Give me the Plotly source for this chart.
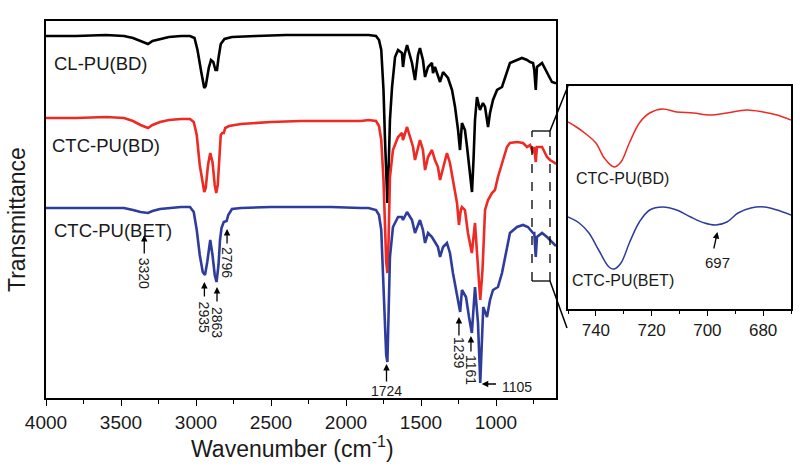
import plotly.graph_objects as go

# ---------------- data (transmittance in arbitrary offset units) -------------
cl_wn = [4000, 3800, 3600, 3480, 3420, 3370, 3320, 3290, 3240, 3180, 3100, 3040, 3010, 2990, 2965, 2945,
         2935, 2915, 2900, 2885, 2870, 2860, 2850, 2835, 2810, 2760, 2600, 2400, 2200, 2000, 1850, 1800,
         1780, 1765, 1750, 1740, 1732, 1724, 1716, 1707, 1693, 1673, 1653, 1627, 1620, 1610, 1593, 1573,
         1560, 1540, 1520, 1507, 1487, 1473, 1453, 1427, 1420, 1407, 1387, 1373, 1353, 1320, 1293, 1273,
         1253, 1240, 1227, 1207, 1193, 1173, 1160, 1150, 1140, 1127, 1107, 1087, 1073, 1053, 1040, 1020,
         993, 960, 927, 907, 860, 827, 793, 773, 753, 745, 735, 727, 693, 660, 627, 607, 600]
cl_t = [362, 362, 363, 362, 360, 357, 354, 357, 359, 361, 362, 362, 360, 348, 326, 310,
        312, 330, 338, 336, 328, 328, 340, 354, 359, 361, 362, 363, 363, 363, 363, 362,
        358, 348, 308, 258, 213, 195, 228, 278, 311, 341, 348, 345, 331, 343, 353, 341,
        335, 318, 343, 350, 338, 321, 331, 335, 325, 331, 323, 316, 326, 320, 308, 291,
        268, 248, 275, 268, 251, 221, 206, 238, 278, 301, 288, 295, 291, 271, 285, 298,
        308, 311, 326, 335, 338, 340, 338, 336, 335, 328, 308, 331, 335, 326, 316, 315, 315]

bd_wn = [4000, 3800, 3600, 3480, 3420, 3370, 3320, 3290, 3240, 3180, 3100, 3040, 3015, 2995, 2975, 2955,
         2945, 2935, 2920, 2905, 2890, 2875, 2865, 2855, 2845, 2835, 2825, 2815, 2805, 2780, 2700, 2500,
         2300, 2100, 1900, 1850, 1800, 1780, 1765, 1750, 1740, 1732, 1724, 1716, 1707, 1687, 1653, 1627,
         1620, 1593, 1573, 1553, 1540, 1507, 1487, 1473, 1453, 1427, 1407, 1387, 1373, 1353, 1327, 1307,
         1287, 1260, 1247, 1235, 1227, 1207, 1187, 1161, 1140, 1120, 1105, 1090, 1073, 1053, 1027, 1007,
         987, 953, 927, 907, 860, 820, 793, 773, 753, 745, 735, 727, 693, 660, 640, 607, 600]
bd_t = [280, 280, 281, 280, 277, 273, 270, 273, 276, 278, 279, 279, 276, 263, 233, 213,
        206, 210, 233, 245, 236, 213, 205, 213, 243, 263, 265, 265, 270, 272, 274, 276,
        277, 277, 277, 278, 277, 272, 258, 218, 168, 136, 125, 158, 221, 248, 261, 265,
        258, 271, 261, 251, 238, 258, 248, 228, 241, 248, 238, 231, 218, 231, 245, 235,
        218, 195, 173, 188, 191, 188, 165, 145, 175, 128, 98, 128, 188, 198, 205, 208,
        221, 238, 251, 255, 256, 255, 251, 253, 245, 251, 236, 251, 251, 241, 238, 235, 234]

bet_wn = [4000, 3800, 3600, 3480, 3420, 3370, 3320, 3290, 3240, 3180, 3100, 3040, 3015, 2995, 2975, 2955,
          2940, 2925, 2905, 2890, 2875, 2863, 2850, 2840, 2830, 2815, 2796, 2785, 2760, 2700, 2500, 2300,
          2100, 1900, 1850, 1800, 1780, 1765, 1750, 1740, 1732, 1724, 1716, 1707, 1687, 1653, 1627, 1620,
          1593, 1560, 1540, 1507, 1487, 1473, 1453, 1427, 1407, 1387, 1373, 1353, 1327, 1307, 1287, 1260,
          1239, 1227, 1200, 1180, 1161, 1140, 1120, 1105, 1085, 1060, 1040, 1020, 987, 960, 927, 907,
          860, 820, 787, 753, 745, 735, 727, 693, 660, 627, 607, 600]
bet_t = [190, 190, 190, 190, 188, 186, 185, 187, 189, 190, 191, 191, 186, 168, 143, 126,
         123, 136, 158, 143, 123, 116, 133, 158, 170, 176, 177, 183, 189, 190, 191, 191,
         191, 190, 190, 188, 183, 168, 118, 68, 43, 36, 78, 141, 171, 181, 181, 178,
         186, 178, 165, 178, 168, 155, 165, 161, 156, 151, 141, 151, 155, 145, 125, 105,
         86, 108, 101, 81, 65, 111, 75, 15, 91, 81, 98, 108, 111, 125, 151, 165,
         171, 173, 171, 165, 165, 141, 161, 165, 161, 156, 153, 152]

# inset (zoom of 750-670 cm-1)
ins_bd_wn = [750, 747, 744, 740, 737, 733.5, 731, 728, 724.4, 720.7, 716, 711, 705, 699, 693, 686, 680, 675, 670]
ins_bd_t = [276, 271, 265, 255, 240, 231, 236, 255, 275, 285, 289, 286, 285, 283, 285, 288, 286, 283, 278]
ins_bet_wn = [750, 746, 742.5, 739, 735.3, 733.5, 731, 728, 724.4, 720.7, 716, 711, 706, 701, 697, 693, 689,
              684.4, 679.5, 675, 670]
ins_bet_t = [181, 175, 165, 148, 131, 129, 135, 155, 176, 188, 191, 188, 181, 175, 173, 176, 185,
             190, 191, 188, 183]

tick_vals = [4000, 3500, 3000, 2500, 2000, 1500, 1000]
inset_ticks = [740, 720, 700, 680]

peak_labels = ["3320", "2935", "2863", "2796", "1724", "1239", "1161"]

# ---------------- figure -------------
BLACK = "#000000"
RED = "#ee2a24"
BLUE = "#2e3c9c"
TXT = "#1a1a1a"
FONT = "Arial, Liberation Sans, sans-serif"

MAIN_X = [4000, 600]
MAIN_Y = [0, 377]
INS_X = [750, 670]
INS_Y = [89, 312]
D_MAIN = 510 / 745
D_INS0 = 522 / 745

fig = go.Figure()
fig.add_trace(go.Scatter(x=cl_wn, y=cl_t, mode="lines", line=dict(color=BLACK, width=2.6), showlegend=False))
fig.add_trace(go.Scatter(x=bd_wn, y=bd_t, mode="lines", line=dict(color=RED, width=2.6), showlegend=False))
fig.add_trace(go.Scatter(x=bet_wn, y=bet_t, mode="lines", line=dict(color=BLUE, width=2.6), showlegend=False))
fig.add_trace(go.Scatter(x=ins_bd_wn, y=ins_bd_t, mode="lines", line=dict(color=RED, width=1.5, shape="spline"),
                         xaxis="x2", yaxis="y2", showlegend=False))
fig.add_trace(go.Scatter(x=ins_bet_wn, y=ins_bet_t, mode="lines", line=dict(color=BLUE, width=1.5, shape="spline"),
                         xaxis="x2", yaxis="y2", showlegend=False))

axis_common = dict(showline=True, linecolor="black", linewidth=1.5, mirror=True, showgrid=False, zeroline=False,
                   automargin=False)
fig.update_layout(
    width=800, height=469,
    margin=dict(l=46, r=9, t=21, b=71, autoexpand=False),
    paper_bgcolor="white", plot_bgcolor="white",
    font=dict(family=FONT, color=TXT),
    xaxis=dict(domain=[0, D_MAIN], range=MAIN_X, tickvals=tick_vals, ticks="outside", ticklen=6, tickwidth=1.3,
               tickcolor="black", tickfont=dict(size=19, color=TXT),
               minor=dict(dtick=250, tick0=0, ticks="outside", ticklen=4, tickwidth=1.2, tickcolor="black"),
               **axis_common),
    yaxis=dict(domain=[0, 1], range=MAIN_Y, showticklabels=False, ticks="", **axis_common),
    xaxis2=dict(domain=[D_INS0, 1], range=INS_X, anchor="y2", tickvals=inset_ticks, ticks="outside", ticklen=5,
                tickwidth=1.2, tickcolor="black", tickfont=dict(size=17, color=TXT),
                minor=dict(dtick=10, tick0=0, ticks="outside", ticklen=3, tickwidth=1, tickcolor="black"),
                **axis_common),
    yaxis2=dict(domain=[89 / 377, 312 / 377], range=INS_Y, anchor="x2", showticklabels=False, ticks="",
                **axis_common),
)


def px_x(wn):
    return D_MAIN * (MAIN_X[0] - wn) / (MAIN_X[0] - MAIN_X[1])


def px_y(t):
    return t / MAIN_Y[1]


# dashed zoom box on the main plot (760-640 cm-1)
bx0, bx1, by0, by1 = 760, 640, 117, 267
fig.add_shape(type="line", x0=bx0, x1=bx0, y0=by0, y1=by1, xref="x", yref="y",
              line=dict(color="black", width=1.3, dash="dash"))
fig.add_shape(type="line", x0=bx1, x1=bx1, y0=by0, y1=by1, xref="x", yref="y",
              line=dict(color="black", width=1.3, dash="dash"))
fig.add_shape(type="line", x0=bx0, x1=bx1, y0=by0, y1=by0, xref="x", yref="y",
              line=dict(color="black", width=1.3))
fig.add_shape(type="line", x0=bx0, x1=bx1, y0=by1, y1=by1, xref="x", yref="y",
              line=dict(color="black", width=1.3))
# connector lines to the inset
fig.add_shape(type="line", xref="paper", yref="paper", x0=px_x(bx1), y0=px_y(by1), x1=D_INS0, y1=312 / 377,
              line=dict(color="black", width=1.5))
fig.add_shape(type="line", xref="paper", yref="paper", x0=px_x(bx1), y0=px_y(by0), x1=521 / 745, y1=70 / 377,
              line=dict(color="black", width=1.5))

# series labels
for txt, xx, yy in [("CL-PU(BD)", 3960, 335), ("CTC-PU(BD)", 3973, 253), ("CTC-PU(BET)", 3960, 168)]:
    fig.add_annotation(x=xx, y=yy, xref="x", yref="y", text=txt, showarrow=False, xanchor="left",
                       yanchor="middle", font=dict(size=18.5, color=TXT))
for txt, xx, yy in [("CTC-PU(BD)", 730.5, 220), ("CTC-PU(BET)", 730.2, 118)]:
    fig.add_annotation(x=xx, y=yy, xref="x2", yref="y2", text=txt, showarrow=False, xanchor="center",
                       yanchor="middle", font=dict(size=16, color=TXT))

# peak arrows (x, tip, tail) and rotated labels
arrows = [(3345, 163, 143), (2944, 116, 100), (2860, 111, 95), (2793, 169, 153),
          (1730, 34, 15), (1247, 81, 61), (1167, 62, 45)]
label_pos = [(3345, 125, 90), (2944, 81, 90), (2860, 76, 90), (2793, 136, 90),
             (1730, 7, 0), (1247, 45, 90), (1167, 28, 90)]
for lab, (xa, tip, tail), (lx, ly, ang) in zip(peak_labels, arrows, label_pos):
    fig.add_annotation(x=xa, y=tip, ax=xa, ay=tail, xref="x", yref="y", axref="x", ayref="y", text="",
                       showarrow=True, arrowhead=2, arrowsize=1, arrowwidth=1.3, arrowcolor="black", standoff=0)
    fig.add_annotation(x=lx, y=ly, xref="x", yref="y", text=lab, showarrow=False, textangle=ang,
                       xanchor="center", yanchor="middle", font=dict(size=14, color=TXT))
# 1105: horizontal arrow
fig.add_annotation(x=1095, y=14, ax=990, ay=14, xref="x", yref="y", axref="x", ayref="y", text="",
                   showarrow=True, arrowhead=2, arrowsize=1, arrowwidth=1.3, arrowcolor="black", standoff=0)
fig.add_annotation(x=975, y=11, xref="x", yref="y", text="1105", showarrow=False, xanchor="left",
                   yanchor="middle", font=dict(size=14, color=TXT))
# 697 in inset
fig.add_annotation(x=696.4, y=166, ax=697.8, ay=148, xref="x2", yref="y2", axref="x2", ayref="y2", text="",
                   showarrow=True, arrowhead=2, arrowsize=1, arrowwidth=1.3, arrowcolor="black", standoff=0)
fig.add_annotation(x=696.4, y=136, xref="x2", yref="y2", text="697", showarrow=False, xanchor="center",
                   yanchor="middle", font=dict(size=15, color=TXT))

# axis titles
fig.add_annotation(x=(292 - 46) / 745, y=(398 - 447) / 377, xref="paper", yref="paper",
                   text="Wavenumber (cm<sup>-1</sup>)", showarrow=False, xanchor="center", yanchor="middle",
                   font=dict(size=23, color=TXT))
fig.add_annotation(x=(17 - 46) / 745, y=(398 - 220) / 377, xref="paper", yref="paper", text="Transmittance",
                   showarrow=False, textangle=-90, xanchor="center", yanchor="middle",
                   font=dict(size=23, color=TXT))

fig.write_html("out.html", config={"displayModeBar": False},
               post_script="document.body.style.margin='0px';document.body.style.overflow='hidden';")
